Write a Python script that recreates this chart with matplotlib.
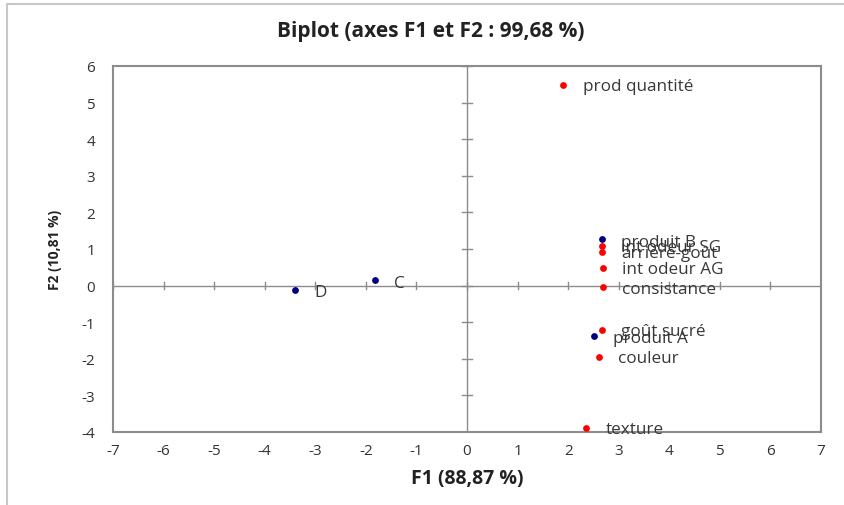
import matplotlib
matplotlib.use('Agg')
import matplotlib.pyplot as plt
from matplotlib.lines import Line2D

plt.rcParams['font.family']=['Open Sans','DejaVu Sans']
plt.rcParams['axes.unicode_minus']=False

# variables (red) and observations (blue)
var_names=['prod quantité','int odeur SG','arrière-goût','int odeur AG','consistance','goût sucré','couleur','texture']
var_f1=[1.90,2.67,2.67,2.69,2.69,2.67,2.61,2.35]
var_f2=[5.49,1.09,0.93,0.49,-0.05,-1.20,-1.94,-3.88]

obs_names=['produit B','produit A','C','D']
obs_f1=[2.67,2.51,-1.82,-3.40]
obs_f2=[1.26,-1.37,0.14,-0.11]

xticks=list(range(-7,8))
yticks=list(range(-4,7))

fig=plt.figure(figsize=(8.45,5.06),dpi=100)
ax=fig.add_axes([113/845,1-433/506,(821-113)/845,(433-67)/506])

grey='#8c8c8c'
ax.axhline(0,color=grey,lw=1,zorder=1)
ax.axvline(0,color=grey,lw=1,zorder=1)
# small crossing ticks on the centre axes
for t in xticks:
    ax.plot([t,t],[-0.1,0.1],color=grey,lw=1,zorder=1)
for t in yticks:
    ax.plot([-0.1,0.1],[t,t],color=grey,lw=1,zorder=1)

ax.scatter(var_f1,var_f2,s=24,color='#ff0000',zorder=3,linewidths=0)
ax.scatter(obs_f1,obs_f2,s=24,color='#00007f',zorder=3,linewidths=0)

for i in range(len(var_names)):
    ax.annotate(var_names[i],(var_f1[i],var_f2[i]),xytext=(14,-1),textcoords='offset points',
                va='center',ha='left',fontsize=12.3,color='#383838')
for i in range(len(obs_names)):
    ax.annotate(obs_names[i],(obs_f1[i],obs_f2[i]),xytext=(14,-1.5),textcoords='offset points',
                va='center',ha='left',fontsize=12.3,color='#383838')

ax.set_xlim(-7,7)
ax.set_ylim(-4,6)
ax.set_xticks(xticks)
ax.set_yticks(yticks)
ax.tick_params(length=0,labelsize=11,labelcolor='#333333')
ax.tick_params(axis='x',pad=8)
ax.tick_params(axis='y',pad=13)
for s in ax.spines.values():
    s.set_color(grey)
    s.set_linewidth(1.5)

ax.set_xlabel('F1 (88,87 %)',fontsize=14,fontweight='bold',color='#222222',labelpad=7)
ax.set_ylabel('F2 (10,81 %)',fontsize=10,fontweight='bold',color='#222222',labelpad=14)
fig.text(431/845,1-32/506,'Biplot (axes F1 et F2 : 99,68 %)',ha='center',va='center',
         fontsize=15,fontweight='bold',color='#222222')

# outer chart frame (top and left edges)
fig.add_artist(Line2D([7/845,1],[1-5/506,1-5/506],color='#c8c8c8',lw=1.5))
fig.add_artist(Line2D([7/845,7/845],[0,1-5/506],color='#c8c8c8',lw=1.5))

plt.savefig('out.png',dpi=100)
